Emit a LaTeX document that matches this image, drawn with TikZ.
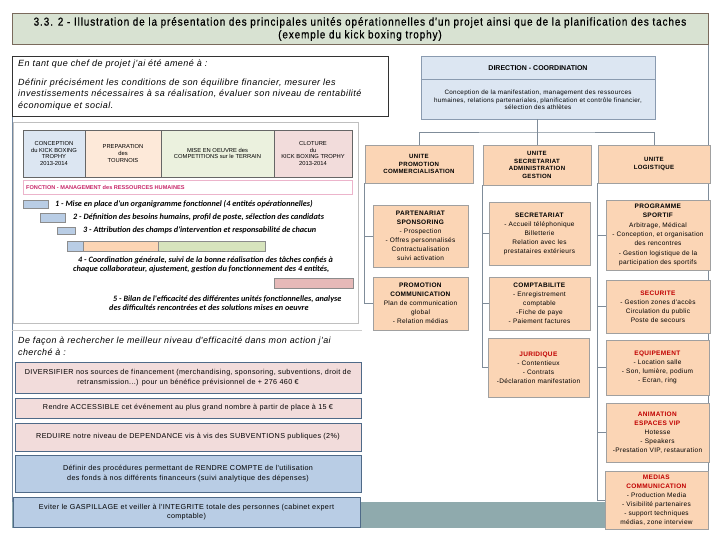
\documentclass[tikz,border=0pt]{standalone}
\usepackage{fontspec}
\setmainfont{Liberation Sans}
\newfontfamily\titlef[FakeStretch=0.86, LetterSpace=8, FakeBold=0.6]{Liberation Sans}
\newfontfamily\wide[LetterSpace=5]{Liberation Sans}
\newfontfamily\calib{Carlito}
\usetikzlibrary{calc}
\definecolor{titlefill}{HTML}{D8E2D2}
\definecolor{titledraw}{HTML}{7A6A5C}
\definecolor{peach}{HTML}{FBD5B5}
\definecolor{peachdraw}{HTML}{A0A0A0}
\definecolor{dirfill}{HTML}{DCE6F2}
\definecolor{dirdraw}{HTML}{8A9BB0}
\definecolor{pinkfill}{HTML}{F2DCDB}
\definecolor{bluefill}{HTML}{B9CDE5}
\definecolor{slate}{HTML}{4F6A88}
\definecolor{tealbar}{HTML}{8FAAAD}
\definecolor{redt}{HTML}{C00000}
\definecolor{magent}{HTML}{C8286A}
\definecolor{gblue}{HTML}{DCE6F2}
\definecolor{gpeach}{HTML}{FDE9D9}
\definecolor{ggreen}{HTML}{EBF1DE}
\definecolor{gpink}{HTML}{F2DCDB}
\definecolor{bblue}{HTML}{B9CDE5}
\definecolor{bpeach}{HTML}{FCD5B4}
\definecolor{bgreen}{HTML}{D7E4BD}
\definecolor{bpink}{HTML}{E6B9B8}
\definecolor{connc}{HTML}{7F8C99}
\begin{document}
\begin{tikzpicture}[x=1pt,y=-1pt,
  box/.style={draw, inner sep=0pt, align=center, anchor=center},
  sz/.style 2 args={minimum width=#1, minimum height=#2},
  orgbox/.style={box, fill=peach, draw=peachdraw, line width=0.5pt, font=\wide\fontsize{6.5}{9}\selectfont},
  unit/.style={orgbox, font=\wide\bfseries\fontsize{6.1}{7.6}\selectfont},
  lbox/.style={box, fill=pinkfill, draw=slate, line width=0.8pt, font=\wide\fontsize{7.2}{9.5}\selectfont},
  lbbox/.style={lbox, fill=bluefill},
  conn/.style={draw=connc, line width=0.6pt},
  gcell/.style={box, draw=black!60, line width=0.6pt, font=\fontsize{5.8}{6.6}\selectfont},
  gtext/.style={anchor=west, inner sep=0pt, font=\calib\bfseries\itshape\fontsize{8.2}{9}\selectfont},
  itext/.style={anchor=base west, inner sep=0pt, font=\wide\itshape\fontsize{9}{10}\selectfont},
  bar/.style={draw=black!45, line width=0.5pt}
]
\useasboundingbox[fill=white] (0,0) rectangle (720,540);

% ---------- frame lines and background ----------
\coordinate (rt) at (708,44);
\coordinate (rb) at (708,471);
\draw[conn] (rt) -- (rb);
\coordinate (lt) at (12.5,116);
\coordinate (lb) at (12.5,502);
\draw[draw=slate!80, line width=0.8pt] (lt) -- (lb);
\draw[draw=black!25, line width=0.6pt] (13,122) rectangle (358,323);
\coordinate (pl) at (12,330);
\coordinate (pr) at (362,330);
\draw[draw=black!20, line width=0.6pt] (pl) -- (pr);
\fill[tealbar] (12,502) rectangle (706,528);

% ---------- title ----------
\node[box, fill=titlefill, draw=titledraw, line width=1pt, sz={696pt}{31pt},
  font=\titlef\fontsize{11.5}{12.8}\selectfont] (title) at (360,29)
  {3.3. 2 - Illustration de la présentation des principales unités opérationnelles d'un projet  ainsi que de la planification des taches\\(exemple du  kick boxing trophy)};

% ---------- intro box ----------
\node[box, draw=black!80, line width=0.8pt, sz={376pt}{60pt}] (intro) at (200,86) {};
\node[itext] (i1) at (18,67) {En tant que chef de projet j'ai été amené à :};
\node[itext] (i2) at (18,85.5) {Définir précisément les conditions de son équilibre financier, mesurer les};
\node[itext] (i3) at (18,97) {investissements nécessaires à sa réalisation, évaluer son niveau de rentabilité};
\node[itext] (i4) at (18,108.5) {économique et social.};

% ---------- Gantt panel ----------
\node[gcell, fill=gblue, sz={62pt}{47pt}] (g1) at (54,153.5) {CONCEPTION\\du KICK BOXING\\TROPHY\\2013-2014};
\node[gcell, fill=gpeach, sz={76pt}{47pt}] (g2) at (123,153.5) {PREPARATION\\des\\TOURNOIS};
\node[gcell, fill=ggreen, sz={113pt}{47pt}] (g3) at (217.5,153.5) {MISE EN OEUVRE des\\COMPETITIONS sur le TERRAIN};
\node[gcell, fill=gpink, sz={78pt}{47pt}] (g4) at (313,153.5) {CLOTURE\\du\\KICK BOXING TROPHY\\2013-2014};
\node[box, draw=magent!35, line width=0.6pt, sz={329pt}{14pt}] (fct) at (187.5,187) {};
\node[anchor=west, inner sep=0pt, text=magent, font=\bfseries\fontsize{5.6}{7}\selectfont] (fctt) at (26,187) {FONCTION - MANAGEMENT des RESSOURCES HUMAINES};

\filldraw[bar, fill=bblue] (23,200) rectangle (48,208);
\filldraw[bar, fill=bblue] (40,213) rectangle (65,222);
\filldraw[bar, fill=bblue] (57,227) rectangle (75,234);
\filldraw[bar, fill=bblue] (67,241) rectangle (83,251);
\filldraw[bar, fill=bpeach] (83,241) rectangle (158,251);
\filldraw[bar, fill=bgreen] (158,241) rectangle (265,251);
\filldraw[bar, fill=bpink] (274,278) rectangle (353,288);

\node[gtext] (t1) at (55,204) {1 - Mise en place d'un organigramme fonctionnel (4 entités opérationnelles)};
\node[gtext] (t2) at (73,217.5) {2 - Définition des besoins humains, profil de poste, sélection des candidats};
\node[gtext] (t3) at (83,230.5) {3 - Attribution des champs d'intervention et responsabilité de chacun};
\node[gtext] (t4a) at (78,260) {4 - Coordination générale, suivi de la bonne réalisation des tâches confiés à};
\node[gtext] (t4b) at (73,269) {chaque collaborateur, ajustement, gestion du fonctionnement des 4 entités,};
\node[gtext] (t5a) at (113,299) {5 - Bilan de l'efficacité des différentes unités fonctionnelles, analyse};
\node[gtext] (t5b) at (109,308) {des difficultés rencontrées et des solutions mises en oeuvre};

% ---------- lower-left ----------
\node[itext, font=\wide\itshape\fontsize{8.9}{10}\selectfont] (d1) at (18,343) {De façon à rechercher le meilleur niveau d'efficacité dans mon action j'ai};
\node[itext, font=\wide\itshape\fontsize{8.9}{10}\selectfont] (d2) at (18,355) {cherché à :};

\node[lbox, sz={346pt}{31pt}] (div) at (188,377.5) {DIVERSIFIER  nos sources de financement (merchandising, sponsoring, subventions, droit de\\retransmission...) pour un bénéfice prévisionnel de + 276 460 €};
\node[lbox, sz={346pt}{20pt}] (acc) at (188,408) {Rendre ACCESSIBLE cet événement au plus grand nombre à partir de place à 15 €};
\node[lbox, sz={346pt}{28pt}] (red) at (188,437) {REDUIRE notre niveau de DEPENDANCE vis à vis des SUBVENTIONS publiques (2\%)};
\node[lbbox, sz={346pt}{37pt}] (rc) at (188,473.5) {Définir des procédures permettant de RENDRE COMPTE  de l'utilisation\\des fonds à nos différents financeurs (suivi analytique des dépenses)};
\node[lbbox, sz={347pt}{30pt}] (gasp) at (186.5,512) {Eviter le GASPILLAGE et veiller à l'INTEGRITE totale des  personnes (cabinet expert\\comptable)};

% ---------- org chart ----------
\node[box, fill=dirfill, draw=dirdraw, line width=0.6pt, sz={234pt}{63pt}] (dir) at (538,87.5) {};
\draw[dirdraw, line width=0.6pt] ($(dir.north west)+(0,24)$) -- ($(dir.north east)+(0,24)$);
\node[inner sep=0pt, font=\bfseries\fontsize{7}{8}\selectfont] (dirt) at (538,68.5) {DIRECTION - COORDINATION};
\node[inner sep=0pt, align=center, font=\wide\fontsize{6.3}{7.6}\selectfont] (dirb) at (538,100) {Conception de la manifestation, management des ressources\\humaines, relations partenariales, planification et contrôle financier,\\sélection des athlètes};

\node[unit, sz={108pt}{38pt}] (upromo) at (419,164) {UNITE\\PROMOTION\\COMMERCIALISATION};
\node[unit, sz={108pt}{40pt}] (usecr) at (537,165) {UNITE\\SECRETARIAT\\ADMINISTRATION\\GESTION};
\node[unit, sz={112pt}{38pt}] (ulog) at (654,164) {UNITE\\LOGISTIQUE};

\coordinate (bus) at (537,132);
\draw[conn] (dir.south -| bus) -- (bus);
\draw[conn] (upromo.north) |- (bus) -| (ulog.north);
\draw[conn] (usecr.north) -- (bus);

\node[orgbox, sz={95pt}{62pt}] (part) at (420.5,236) {\textbf{PARTENARIAT}\\\textbf{SPONSORING}\\- Prospection\\- Offres personnalisés\\Contractualisation\\suivi activation};
\node[orgbox, sz={95pt}{53pt}] (pcomm) at (420.5,303.5) {\textbf{PROMOTION}\\\textbf{COMMUNICATION}\\Plan de communication\\global\\- Relation médias};

\node[orgbox, sz={101pt}{63pt}] (secr) at (539.5,233.5) {\textbf{SECRETARIAT}\\- Accueil téléphonique\\Billetterie\\Relation avec les\\prestataires extérieurs};
\node[orgbox, sz={101pt}{53pt}] (compta) at (539.5,303.5) {\textbf{COMPTABILITE}\\- Enregistrement\\comptable\\-Fiche de paye\\- Paiement factures};
\node[orgbox, sz={101pt}{59pt}] (jur) at (538.5,367.5) {\textcolor{redt}{\textbf{JURIDIQUE}}\\- Contentieux\\- Contrats\\-Déclaration manifestation};

\node[orgbox, sz={104pt}{70pt}, font=\wide\fontsize{6.5}{9.4}\selectfont] (prog) at (658,235) {\textbf{PROGRAMME}\\\textbf{SPORTIF}\\Arbitrage, Médical\\- Conception, et organisation\\des rencontres\\- Gestion logistique de la\\participation des sportifs};
\node[orgbox, sz={104pt}{53pt}] (secu) at (658,306.5) {\textcolor{redt}{\textbf{SECURITE}}\\- Gestion zones d'accès\\Circulation du public\\Poste de secours};
\node[orgbox, sz={103pt}{55pt}] (equip) at (657.5,367.5) {\textcolor{redt}{\textbf{EQUIPEMENT}}\\- Location salle\\- Son, lumière, podium\\- Ecran, ring};
\node[orgbox, sz={103pt}{59pt}] (anim) at (657.5,432.5) {\textcolor{redt}{\textbf{ANIMATION}}\\\textcolor{redt}{\textbf{ESPACES VIP}}\\Hotesse\\- Speakers\\-Prestation VIP, restauration};
\node[orgbox, sz={103pt}{58pt}, font=\wide\fontsize{6.5}{8.9}\selectfont] (medias) at (656.5,500) {\textcolor{redt}{\textbf{MEDIAS}}\\\textcolor{redt}{\textbf{COMMUNICATION}}\\- Production Media\\- Visibilité partenaires\\- support techniques\\médias, zone interview};

\draw[conn] (upromo.south west) |- (part.west);
\draw[conn] (upromo.south west) |- (pcomm.west);
\draw[conn] (usecr.south west) |- (secr.west);
\draw[conn] (usecr.south west) |- (compta.west);
\draw[conn] (usecr.south west) |- (jur.west);
\draw[conn] (ulog.south west) |- (prog.west);
\draw[conn] (ulog.south west) |- (secu.west);
\draw[conn] (ulog.south west) |- (equip.west);
\draw[conn] (ulog.south west) |- (anim.west);
\draw[conn] (ulog.south west) |- (medias.west);
\end{tikzpicture}
\end{document}
